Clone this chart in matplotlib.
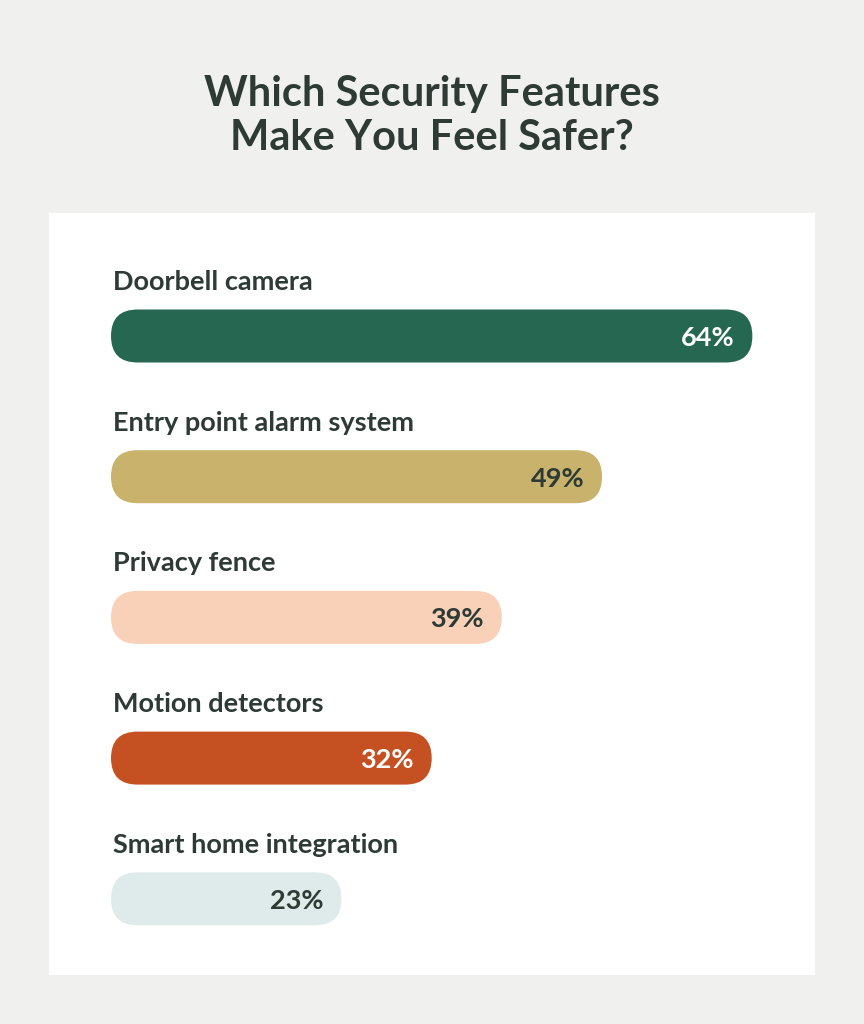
import matplotlib
matplotlib.use("Agg")
import matplotlib.pyplot as plt
from matplotlib.patches import FancyBboxPatch, Rectangle

categories = ["Doorbell camera", "Entry point alarm system", "Privacy fence",
              "Motion detectors", "Smart home integration"]
values = [64, 49, 39, 32, 23]
colors = ["#256751", "#c9b26c", "#f9d0b8", "#c55122", "#deebea"]
value_colors = ["#ffffff", "#2d3a35", "#2d3a35", "#ffffff", "#2d3a35"]
title = "Which Security Features\nMake You Feel Safer?"

FONT = "Lato"
DARK = "#2d3a35"
W, H = 864, 1024
fig = plt.figure(figsize=(W / 100, H / 100), dpi=100)
fig.patch.set_facecolor("#f0f0ee")

# white panel
fig.patches.append(Rectangle((49 / W, 1 - 975 / H), (815 - 49) / W, (975 - 213) / H,
                             transform=fig.transFigure, facecolor="white",
                             edgecolor="none", zorder=-5))

fig.text(0.5, 1 - 116 / H, title, ha="center", va="center", fontsize=30,
         fontweight="bold", color=DARK, family=FONT, linespacing=1.2)

# axes: x from px 111 to ~812 (0..70), y from px 213 to 975
ax_l, ax_r, ax_t, ax_b = 111, 812.5, 213, 975
ax = fig.add_axes([ax_l / W, 1 - ax_b / H, (ax_r - ax_l) / W, (ax_b - ax_t) / H])
ax.set_facecolor("none")
ax.set_zorder(2)
xmax = 70
step = 140.7
c0 = 336
ax.set_xlim(0, xmax)
ax.set_ylim((ax_b - c0) / step, -(c0 - ax_t) / step)
ax.axis("off")

px_x = xmax / (ax_r - ax_l)      # x units per px
px_y = 1 / step                   # y units per px
bar_h_px = 53
bh = bar_h_px * px_y
r_x = (bar_h_px / 2) * px_x
aspect = px_y / px_x

for i, (cat, v, c, vc) in enumerate(zip(categories, values, colors, value_colors)):
    p = FancyBboxPatch((0, i - bh / 2), v, bh,
                       boxstyle=f"round,pad=0,rounding_size={r_x}",
                       mutation_aspect=aspect, facecolor=c, edgecolor="none")
    ax.add_patch(p)
    ax.text(v - 18 * px_x, i, f"{v}%", ha="right", va="center_baseline",
            fontsize=19.5, fontweight="bold", color=vc, family=FONT)
    ax.text(0.2, i - 46 * px_y, cat, ha="left", va="baseline",
            fontsize=19.5, fontweight="bold", color=DARK, family=FONT)

fig.savefig("out.png", dpi=100, facecolor=fig.get_facecolor())
